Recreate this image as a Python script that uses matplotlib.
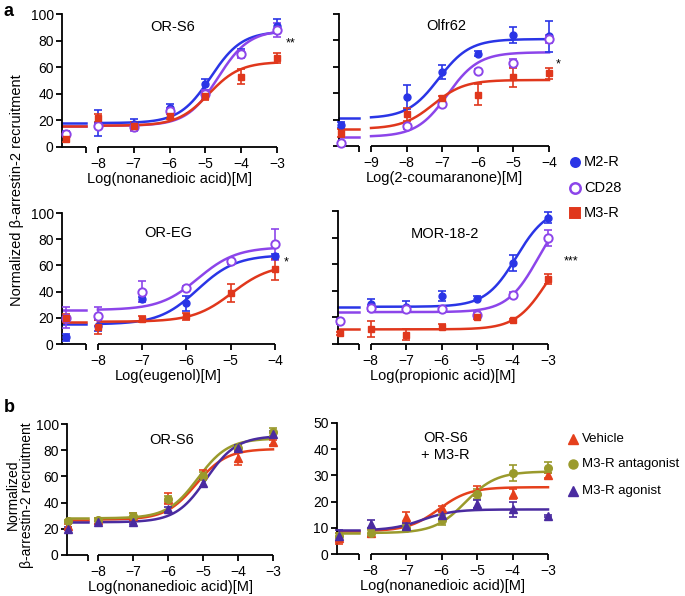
import matplotlib

matplotlib.use("Agg")

import matplotlib.pyplot as plt
import numpy as np
from matplotlib.lines import Line2D

plt.rcParams["font.family"] = ["Liberation Sans", "DejaVu Sans"]
plt.rcParams["font.size"] = 10

W, H = 685, 596

BLUE = "#2a35e6"
VIOLET = "#8c45ea"
RED = "#e0371c"
VEH = "#e5401c"
OLIVE = "#9a9a2c"
INDIGO = "#4a2ba0"

# ---- panel a, OR-S6 / nonanedioic acid ----
A1_CONC = [-8, -7, -6, -5, -4, -3]
A1_M2R = [18, 17, 29, 47, 71, 91]
A1_M2R_ERR = [10, 4, 3, 4, 3, 5]
A1_CD28 = [16, 15, 27, 40, 70, 88]
A1_CD28_ERR = [2, 3, 2, 3, 3, 5]
A1_M3R = [22, 16, 23, 38, 53, 67]
A1_M3R_ERR = [3, 3, 2, 3, 6, 4]
A1_CTRL = [10, 10, 6]
A1_CTRL_ERR = [2, 1, 2]
A1_FIT = [(18, 87, -4.85), (16, 88, -4.65), (16, 64, -4.9)]

# ---- panel a, Olfr62 / 2-coumaranone ----
A2_CONC = [-8, -7, -6, -5, -4]
A2_M2R = [37, 56, 70, 84, 83]
A2_M2R_ERR = [9, 5, 2, 6, 12]
A2_CD28 = [15, 32, 57, 63, 81]
A2_CD28_ERR = [2, 2, 1, 3, 3]
A2_M3R = [24, 36, 39, 52, 55]
A2_M3R_ERR = [5, 2, 8, 7, 4]
A2_CTRL = [16, 2, 10]
A2_CTRL_ERR = [2, 1, 3]
A2_FIT = [(21, 81, -7.1), (7, 71, -6.85), (13, 50, -7.25)]

# ---- panel a, OR-EG / eugenol ----
A3_CONC = [-8, -7, -6, -5, -4]
A3_M2R = [14, 34, 31, 63, 67]
A3_M2R_ERR = [4, 2, 6, 2, 2]
A3_CD28 = [21, 40, 43, 63, 76]
A3_CD28_ERR = [7, 8, 1, 2, 12]
A3_M3R = [13, 19, 21, 39, 57]
A3_M3R_ERR = [5, 2, 3, 7, 8]
A3_CTRL = [5, 20, 20]
A3_CTRL_ERR = [3, 8, 3]
A3_FIT = [(15, 68, -5.75), (26, 74, -5.74), (17, 61, -4.97)]

# ---- panel a, MOR-18-2 / propionic acid ----
A4_CONC = [-8, -7, -6, -5, -4, -3]
A4_M2R = [30, 28, 36, 34, 61, 95]
A4_M2R_ERR = [4, 4, 4, 2, 6, 4]
A4_CD28 = [27, 26, 26, 22, 37, 80]
A4_CD28_ERR = [2, 2, 2, 2, 2, 6]
A4_M3R = [11, 7, 13, 20, 18, 49]
A4_M3R_ERR = [6, 4, 2, 1, 1, 4]
A4_CTRL = [17, 17, 8]
A4_CTRL_ERR = [2, 1, 1]
A4_FIT = [(28, 103, -3.89), (24, 105, -3.28), (11, 80, -3.05)]

# ---- panel b, OR-S6 ----
B1_CONC = [-8, -7, -6, -5, -4, -3]
B1_VEH = [27, 30, 43, 62, 74, 86]
B1_VEH_ERR = [1, 2, 4, 3, 5, 2]
B1_ANT = [27, 30, 43, 60, 82, 94]
B1_ANT_ERR = [1, 2, 2, 3, 2, 3]
B1_AGO = [25, 25, 35, 55, 82, 92]
B1_AGO_ERR = [1, 1, 2, 3, 2, 3]
B1_CTRL = [22, 26, 20]
B1_CTRL_ERR = [2, 1, 1]
B1_FIT = [(27, 81, -5.2), (28, 89, -5.15), (25, 91, -4.91)]

# ---- panel b, OR-S6 + M3-R ----
B2_CONC = [-8, -7, -6, -5, -4, -3]
B2_VEH = [8, 14, 17.5, 24, 23, 30]
B2_VEH_ERR = [1.5, 2, 1, 2, 2, 1]
B2_ANT = [8, 10, 13, 23, 31, 33]
B2_ANT_ERR = [1, 1, 2, 2, 3, 2]
B2_AGO = [11.5, 10.5, 15, 19, 17, 14.5]
B2_AGO_ERR = [1.5, 1.5, 1.5, 1.5, 3, 0.5]
B2_CTRL = [6, 7, 7]
B2_CTRL_ERR = [2, 1, 2]
B2_FIT = [(8.7, 25.5, -6.08), (8, 31.5, -5.33), (9, 17, -6.55)]

A_STYLES = [
    dict(color=BLUE, marker="o", mfc=BLUE, ms=5),
    dict(color=VIOLET, marker="o", mfc="white", ms=6, mew=1.4),
    dict(color=RED, marker="s", mfc=RED, ms=5),
]
B_STYLES = [
    dict(color=VEH, marker="^", mfc=VEH, ms=5.5),
    dict(color=OLIVE, marker="o", mfc=OLIVE, ms=5.5),
    dict(color=INDIGO, marker="^", mfc=INDIGO, ms=5.5),
]


def hill(x, bottom, top, logec50):
    return bottom + (top - bottom) / (1 + 10 ** (logec50 - x))


def make_axes(fig, px_left, px_right, px_top, px_bottom):
    return fig.add_axes([
        px_left / W,
        1 - px_bottom / H,
        (px_right - px_left) / W,
        (px_bottom - px_top) / H,
    ])


def draw_panel(ax, xlim, ymax, ystep, main_start, seg_end, ctrl_x, conc,
               series, errs, ctrl, ctrl_err, fits, styles, title, title_y, xlabel,
               ylabels=True):
    ax.set_xlim(*xlim)
    ax.set_ylim(0, ymax)
    for side in ("top", "right", "bottom"):
        ax.spines[side].set_visible(False)
    ax.spines["left"].set_linewidth(1.3)
    ax.set_yticks(np.arange(0, ymax + 1, ystep))
    if not ylabels:
        ax.set_yticklabels([])
    ticks = list(range(main_start, conc[-1] + 1))
    ax.set_xticks([seg_end] + ticks)
    ax.set_xticklabels([""] + ["\u2212%d" % -t for t in ticks])
    ax.tick_params(direction="out", length=4, width=1.3, pad=2, labelsize=10)
    ax.tick_params(axis="x", pad=3)
    trans = ax.get_xaxis_transform()
    ax.plot([xlim[0], seg_end], [0, 0], color="black", lw=1.3, transform=trans,
            clip_on=False, solid_capstyle="butt")
    ax.plot([main_start, conc[-1]], [0, 0], color="black", lw=1.3, transform=trans,
            clip_on=False, solid_capstyle="butt")

    xs = np.linspace(main_start, conc[-1], 200)
    for vals, err, c, ce, fit, st in zip(series, errs, ctrl, ctrl_err, fits, styles):
        ax.plot(xs, hill(xs, *fit), color=st["color"], lw=1.8, clip_on=False, zorder=2)
        ax.plot([xlim[0], seg_end], [fit[0], fit[0]], color=st["color"], lw=1.8,
                clip_on=False, zorder=2)
        ax.errorbar(conc, vals, yerr=err, fmt="none", ecolor=st["color"], elinewidth=1.2,
                    capsize=3, capthick=1.2, clip_on=False, zorder=3)
        ax.errorbar([ctrl_x], [c], yerr=[ce], fmt="none", ecolor=st["color"], elinewidth=1.2,
                    capsize=3, capthick=1.2, clip_on=False, zorder=3)
        ax.plot(conc + [ctrl_x], vals + [c], ls="none", marker=st["marker"], color=st["color"],
                mfc=st["mfc"], mec=st["color"], ms=st["ms"], mew=st.get("mew", 1),
                clip_on=False, zorder=4)

    ax.text(0.5 * (main_start + conc[-1]) - 0.4, title_y, title, ha="center", va="center",
            fontsize=10.5, transform=ax.transData)
    ax.set_xlabel(xlabel, fontsize=10.5, labelpad=1)


fig = plt.figure(figsize=(W / 100, H / 100), dpi=100)

ax1 = make_axes(fig, 62, 277, 14, 147)
draw_panel(ax1, (-9.0, -3), 100, 20, -8, -8.33, -8.9, A1_CONC,
           [A1_M2R, A1_CD28, A1_M3R], [A1_M2R_ERR, A1_CD28_ERR, A1_M3R_ERR],
           A1_CTRL, A1_CTRL_ERR, A1_FIT, A_STYLES, "OR-S6", 90, "Log(nonanedioic acid)[M]")
ax1.text(-2.75, 78, "**", fontsize=9, ha="left", va="center")

ax2 = make_axes(fig, 339, 549, 14, 146)
draw_panel(ax2, (-9.9, -4), 100, 20, -9, -9.33, -9.85, A2_CONC,
           [A2_M2R, A2_CD28, A2_M3R], [A2_M2R_ERR, A2_CD28_ERR, A2_M3R_ERR],
           A2_CTRL, A2_CTRL_ERR, A2_FIT, A_STYLES, "Olfr62", 91, "Log(2-coumaranone)[M]",
           ylabels=False)
ax2.text(-3.8, 62, "*", fontsize=9, ha="left", va="center")

ax3 = make_axes(fig, 62, 275, 213, 344)
draw_panel(ax3, (-8.81, -4), 100, 20, -8, -8.27, -8.72, A3_CONC,
           [A3_M2R, A3_CD28, A3_M3R], [A3_M2R_ERR, A3_CD28_ERR, A3_M3R_ERR],
           A3_CTRL, A3_CTRL_ERR, A3_FIT, A_STYLES, "OR-EG", 85, "Log(eugenol)[M]")
ax3.text(-3.8, 62, "*", fontsize=9, ha="left", va="center")

ax4 = make_axes(fig, 338, 548, 211, 344)
draw_panel(ax4, (-8.92, -3), 100, 20, -8, -8.34, -8.87, A4_CONC,
           [A4_M2R, A4_CD28, A4_M3R], [A4_M2R_ERR, A4_CD28_ERR, A4_M3R_ERR],
           A4_CTRL, A4_CTRL_ERR, A4_FIT, A_STYLES, "MOR-18-2", 83, "Log(propionic acid)[M]",
           ylabels=False)
ax4.text(-2.35, 62, "***", fontsize=9, ha="center", va="center")

ax5 = make_axes(fig, 67, 273, 424, 555)
draw_panel(ax5, (-8.89, -3), 100, 20, -8, -8.3, -8.86, B1_CONC,
           [B1_VEH, B1_ANT, B1_AGO], [B1_VEH_ERR, B1_ANT_ERR, B1_AGO_ERR],
           B1_CTRL, B1_CTRL_ERR, B1_FIT, B_STYLES, "OR-S6", 88, "Log(nonanedioic acid)[M]")

ax6 = make_axes(fig, 337, 548, 423, 554)
draw_panel(ax6, (-8.95, -3), 50, 10, -8, -8.33, -8.9, B2_CONC,
           [B2_VEH, B2_ANT, B2_AGO], [B2_VEH_ERR, B2_ANT_ERR, B2_AGO_ERR],
           B2_CTRL, B2_CTRL_ERR, B2_FIT, B_STYLES, "OR-S6\n+ M3-R", 41, "Log(nonanedioic acid)[M]")

# y labels and panel letters
fig.text(17 / W, 1 - 190 / H, "Normalized \u03b2-arrestin-2 recruitment", rotation=90,
         ha="center", va="center", fontsize=10.5)
fig.text(20 / W, 1 - 495 / H, "Normalized\n\u03b2-arrestin-2 recruitment", rotation=90,
         ha="center", va="center", fontsize=10, linespacing=1.0)
fig.text(4 / W, 1 - 12 / H, "a", fontsize=13, fontweight="bold", ha="left", va="center")
fig.text(4 / W, 1 - 408 / H, "b", fontsize=13, fontweight="bold", ha="left", va="center")

# legends
A_LABELS = ["M2-R", "CD28", "M3-R"]
A_LEG_Y = [162, 188, 213]
for lab, yy, st in zip(A_LABELS, A_LEG_Y, A_STYLES):
    fig.add_artist(Line2D([575 / W], [1 - yy / H], transform=fig.transFigure, ls="none",
                          marker=st["marker"], color=st["color"], mfc=st["mfc"], mec=st["color"],
                          ms=st["ms"] + 1.5, mew=st.get("mew", 1) + 0.4))
    fig.text(584 / W, 1 - yy / H, lab, fontsize=10.5, ha="left", va="center")

B_LABELS = ["Vehicle", "M3-R antagonist", "M3-R agonist"]
B_LEG_Y = [439, 464, 491]
for lab, yy, st in zip(B_LABELS, B_LEG_Y, B_STYLES):
    fig.add_artist(Line2D([573 / W], [1 - yy / H], transform=fig.transFigure, ls="none",
                          marker=st["marker"], color=st["color"], mfc=st["mfc"], mec=st["color"],
                          ms=st["ms"] + 1))
    fig.text(582 / W, 1 - yy / H, lab, fontsize=9.5, ha="left", va="center")

fig.savefig("out.png", dpi=100, facecolor="white")
